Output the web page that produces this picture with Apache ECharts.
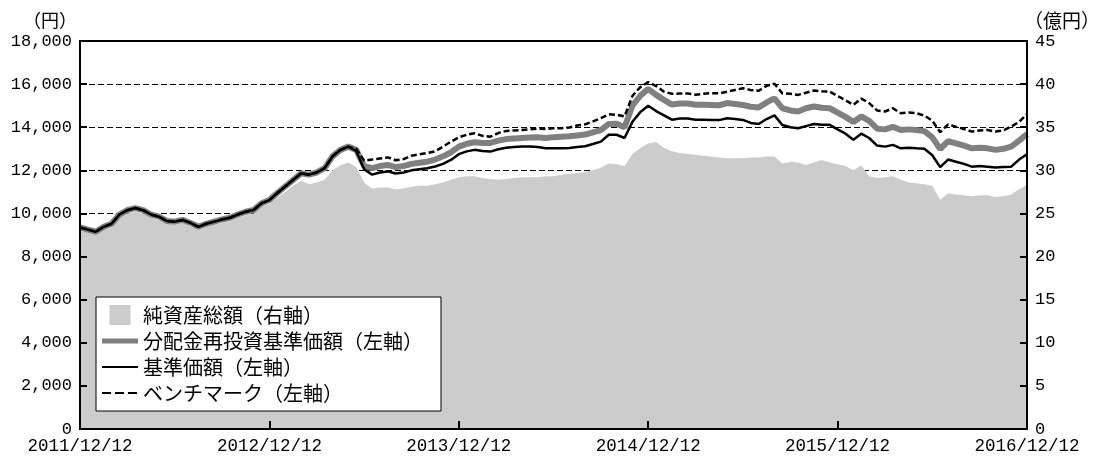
<!DOCTYPE html>
<html>
<head>
<meta charset="utf-8">
<script src="https://cdn.jsdelivr.net/npm/echarts@6/dist/echarts.min.js"></script>
<style>html,body{margin:0;padding:0;background:#fff;}#c{width:1096px;height:457px;}</style>
</head>
<body>
<div id="c"></div>
<script>
const dates = [
'2011/12/12','2011/12/27',
'2012/01/12','2012/01/27','2012/02/12','2012/02/27','2012/03/12','2012/03/27','2012/04/12','2012/04/27','2012/05/12','2012/05/27','2012/06/12','2012/06/27',
'2012/07/12','2012/07/27','2012/08/12','2012/08/27','2012/09/12','2012/09/27','2012/10/12','2012/10/27','2012/11/12','2012/11/27','2012/12/12','2012/12/27',
'2013/01/12','2013/01/27','2013/02/12','2013/02/27','2013/03/12','2013/03/27','2013/04/12','2013/04/27','2013/05/12','2013/05/27','2013/06/12','2013/06/27',
'2013/07/12','2013/07/27','2013/08/12','2013/08/27','2013/09/12','2013/09/27','2013/10/12','2013/10/27','2013/11/12','2013/11/27','2013/12/12','2013/12/27',
'2014/01/12','2014/01/27','2014/02/12','2014/02/27','2014/03/12','2014/03/27','2014/04/12','2014/04/27','2014/05/12','2014/05/27','2014/06/12','2014/06/27',
'2014/07/12','2014/07/27','2014/08/12','2014/08/27','2014/09/12','2014/09/27','2014/10/12','2014/10/27','2014/11/12','2014/11/27','2014/12/12','2014/12/27',
'2015/01/12','2015/01/27','2015/02/12','2015/02/27','2015/03/12','2015/03/27','2015/04/12','2015/04/27','2015/05/12','2015/05/27','2015/06/12','2015/06/27',
'2015/07/12','2015/07/27','2015/08/12','2015/08/27','2015/09/12','2015/09/27','2015/10/12','2015/10/27','2015/11/12','2015/11/27','2015/12/12','2015/12/27',
'2016/01/12','2016/01/27','2016/02/12','2016/02/27','2016/03/12','2016/03/27','2016/04/12','2016/04/27','2016/05/12','2016/05/27','2016/06/12','2016/06/27',
'2016/07/12','2016/07/27','2016/08/12','2016/08/27','2016/09/12','2016/09/27','2016/10/12','2016/10/27','2016/11/12','2016/11/27','2016/12/12'
];

// 基準価額（左軸, 円）
const nav = [
9350,9250,
9150,9380,9520,9950,10150,10250,10150,9950,9850,9650,9620,9700,9560,9380,9520,9620,9720,9800,9950,10080,10160,10470,10620,10950,
11250,11550,11860,11800,11900,12100,12650,12950,13100,12900,12050,11800,11900,11950,11850,11900,12000,12050,12100,12180,12300,12480,12750,12880,
12950,12900,12870,12980,13050,13080,13100,13100,13080,13020,13020,13020,13040,13080,13120,13220,13330,13650,13650,13500,14250,14700,15000,14750,
14550,14350,14400,14400,14350,14350,14340,14330,14420,14380,14340,14200,14150,14380,14550,14100,14000,13950,14050,14150,14120,14110,13900,13700,
13420,13700,13500,13150,13100,13180,13020,13050,13020,13000,12700,12150,12500,12400,12300,12170,12200,12170,12130,12150,12170,12500,12750
];

// 分配金再投資基準価額（左軸, 円）
const reinvest = [
9350,9250,
9150,9380,9520,9950,10150,10250,10150,9950,9850,9650,9620,9700,9560,9380,9520,9620,9720,9800,9950,10080,10160,10470,10620,10950,
11250,11550,11860,11800,11900,12100,12650,12950,13100,12950,12200,12100,12200,12250,12150,12200,12300,12350,12400,12500,12650,12830,13100,13230,
13300,13270,13270,13380,13450,13480,13500,13520,13530,13500,13540,13560,13580,13620,13660,13760,13870,14150,14160,14000,15000,15460,15780,15500,
15270,15050,15100,15100,15040,15040,15030,15020,15120,15080,15030,14950,14920,15150,15340,14880,14780,14730,14880,14960,14900,14880,14680,14480,
14240,14500,14290,13930,13900,14020,13870,13900,13870,13820,13530,12990,13350,13250,13150,13020,13050,13020,12950,13000,13100,13380,13680
];

// ベンチマーク（左軸, 円）
const bench = [
9350,9250,
9150,9380,9520,9950,10150,10250,10150,9950,9850,9650,9620,9700,9560,9380,9520,9620,9720,9800,9950,10080,10160,10470,10620,10950,
11250,11550,11860,11800,11900,12100,12650,12950,13100,13000,12450,12500,12550,12600,12470,12520,12680,12740,12800,12880,13100,13330,13530,13650,
13720,13600,13560,13730,13830,13850,13870,13900,13930,13920,13950,13950,13990,14080,14130,14270,14420,14600,14580,14500,15450,15860,16090,15910,
15650,15550,15560,15560,15510,15550,15580,15570,15650,15730,15810,15720,15690,15920,16020,15570,15550,15500,15600,15700,15670,15650,15450,15250,
15040,15330,15120,14780,14730,14880,14650,14680,14650,14540,14300,13770,14130,14020,13920,13800,13850,13870,13800,13850,14030,14250,14610
];

// 純資産総額（右軸, 億円）
const assets = [
23.0,22.8,
22.6,23.1,23.4,24.5,25.0,25.2,25.0,24.5,24.2,23.8,23.7,23.9,23.5,23.1,23.4,23.7,23.9,24.1,24.5,24.8,25.0,25.8,26.1,26.8,
27.5,28.2,28.8,28.4,28.6,28.9,30.0,30.6,30.9,30.4,28.6,27.9,28.0,28.0,27.8,27.9,28.1,28.2,28.2,28.4,28.6,28.9,29.2,29.3,
29.3,29.1,29.0,28.9,29.0,29.1,29.2,29.2,29.2,29.3,29.3,29.5,29.6,29.7,29.8,30.0,30.3,30.8,30.7,30.5,31.9,32.6,33.1,33.3,
32.6,32.2,32.0,31.9,31.8,31.7,31.6,31.5,31.4,31.4,31.4,31.5,31.5,31.6,31.6,30.8,31.0,30.9,30.6,30.9,31.2,30.9,30.7,30.5,
30.0,30.6,29.3,29.1,29.2,29.3,28.9,28.6,28.5,28.4,28.2,26.6,27.3,27.2,27.1,27.0,27.1,27.1,26.9,27.0,27.2,27.8,28.3
];

const seriesNames = ['純資産総額（右軸）','分配金再投資基準価額（左軸）','基準価額（左軸）','ベンチマーク（左軸）'];
const unitLeft = '（円）';
const unitRight = '（億円）';

const numFont = 'Liberation Mono, DejaVu Sans Mono, monospace';
const jpFont = 'Noto Sans CJK JP, sans-serif';
const axisLineStyle = {color:'#000', width:2};

// legend icons (36x20 box; tiny corner marks keep the full extent)
const corners = 'M0,0L0.01,0L0,0.01ZM36,20L35.99,20L36,19.99Z';
const iconSquare = 'path://' + corners + 'M7.5,0H28.5V20H7.5Z';
const iconThick = 'path://' + corners + 'M0,7.5H36V12.5H0Z';
const iconThin = 'path://' + corners + 'M0,9H36V11H0Z';
const iconDash = 'path://' + corners + 'M0,9H9V11H0ZM13,9H22V11H13ZM26,9H35V11H26Z';
const noBorder = {borderWidth:0};

const chart = echarts.init(document.getElementById('c'), null, {renderer:'canvas'});
chart.setOption({
  animation: false,
  backgroundColor: '#fff',
  grid: {left:80, right:69, top:41, bottom:28, containLabel:false, outerBoundsMode:'none',
         show:true, borderColor:'#000', borderWidth:2, backgroundColor:'transparent'},
  graphic: [
    {type:'text', x:50, y:20, z:10, style:{text:unitLeft, fontSize:18, fontFamily:jpFont, fill:'#000', align:'center', verticalAlign:'middle'}},
    {type:'text', x:1062, y:21, z:10, style:{text:unitRight, fontSize:19, fontFamily:jpFont, fill:'#000', align:'center', verticalAlign:'middle'}}
  ],
  legend: {
    orient:'vertical', left:96, top:297,
    itemWidth:36, itemHeight:20, itemGap:6,
    padding:[8,18,8,6],
    borderColor:'#000', borderWidth:1, backgroundColor:'#fff',
    textStyle:{fontSize:20, fontFamily:jpFont, color:'#000'},
    data:[
      {name:seriesNames[0], icon:iconSquare, itemStyle:noBorder},
      {name:seriesNames[1], icon:iconThick, itemStyle:noBorder},
      {name:seriesNames[2], icon:iconThin, itemStyle:noBorder},
      {name:seriesNames[3], icon:iconDash, itemStyle:noBorder}
    ]
  },
  xAxis: {
    type:'category', data:dates, boundaryGap:false, z:3,
    axisLine:{show:true, lineStyle:axisLineStyle},
    axisTick:{show:true, inside:true, length:8, interval:23, lineStyle:axisLineStyle},
    axisLabel:{interval:23, margin:8, color:'#000', fontSize:17.5, fontFamily:numFont, showMinLabel:true, showMaxLabel:true},
    splitLine:{show:false}
  },
  yAxis: [
    {
      type:'value', position:'left', min:0, max:18000, interval:2000, z:3,
      axisLine:{show:true, lineStyle:axisLineStyle},
      axisTick:{show:true, inside:true, length:7, lineStyle:axisLineStyle},
      axisLabel:{margin:8, color:'#000', fontSize:17, fontFamily:numFont, formatter:v => v.toLocaleString('en-US')},
      splitLine:{show:false}
    },
    {
      type:'value', position:'right', min:0, max:45, interval:5, z:3,
      axisLine:{show:true, lineStyle:axisLineStyle},
      axisTick:{show:true, inside:true, length:7, lineStyle:axisLineStyle},
      axisLabel:{margin:8, color:'#000', fontSize:17, fontFamily:numFont},
      splitLine:{show:false}
    },
    {
      type:'value', position:'left', min:0, max:18000, interval:2000, z:0,
      axisLine:{show:false}, axisTick:{show:false}, axisLabel:{show:false},
      splitLine:{show:true, showMinLine:false, showMaxLine:false, lineStyle:{color:'#000', width:1, type:[6,3]}}
    }
  ],
  series: [
    {name:seriesNames[0], type:'line', yAxisIndex:1, data:assets, symbol:'none', showSymbol:false,
     color:'#cccccc', lineStyle:{width:0, color:'#cccccc'}, areaStyle:{color:'#cccccc', opacity:1}, z:1},
    {name:seriesNames[1], type:'line', yAxisIndex:0, data:reinvest, symbol:'none', showSymbol:false,
     color:'#808080', lineStyle:{width:6, color:'#808080'}, z:2},
    {name:seriesNames[2], type:'line', yAxisIndex:0, data:nav, symbol:'none', showSymbol:false,
     color:'#000', lineStyle:{width:2.5, color:'#000'}, z:2},
    {name:seriesNames[3], type:'line', yAxisIndex:0, data:bench, symbol:'none', showSymbol:false,
     color:'#000', lineStyle:{width:2.5, color:'#000', type:[6,3]}, z:2}
  ]
});
</script>
</body>
</html>
